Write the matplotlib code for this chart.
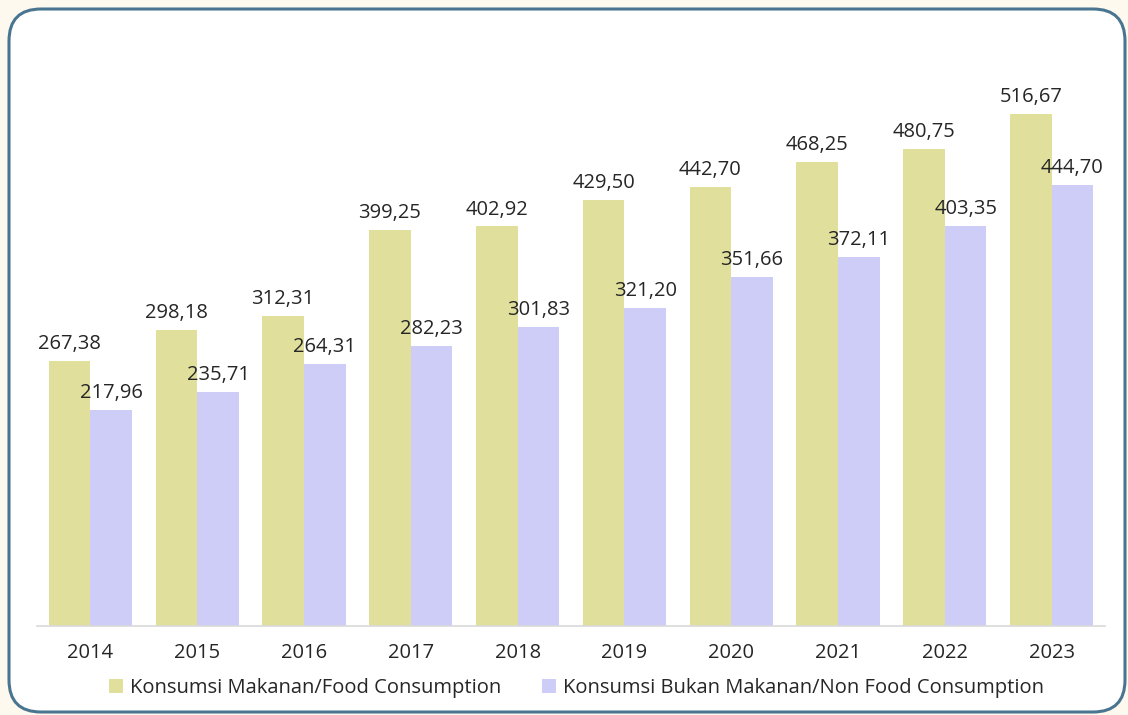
import numpy as np
import matplotlib.pyplot as plt
from matplotlib.patches import FancyBboxPatch, Patch

years = ['2014', '2015', '2016', '2017', '2018', '2019', '2020', '2021', '2022', '2023']
food = [267.38, 298.18, 312.31, 399.25, 402.92, 429.50, 442.70, 468.25, 480.75, 516.67]
non_food = [217.96, 235.71, 264.31, 282.23, 301.83, 321.20, 351.66, 372.11, 403.35, 444.70]
series_names = ['Konsumsi Makanan/Food Consumption', 'Konsumsi Bukan Makanan/Non Food Consumption']

food_color = '#e0e09c'
nonfood_color = '#cdcdf7'
text_color = '#262626'

plt.rcParams['font.family'] = ['Open Sans', 'DejaVu Sans']

fig = plt.figure(figsize=(11.28, 7.15), dpi=100)
fig.patch.set_facecolor('#fdf9ee')

# background frame in pixel units
bg = fig.add_axes([0, 0, 1, 1])
bg.set_xlim(0, 1128)
bg.set_ylim(0, 715)
bg.axis('off')
bg.add_patch(FancyBboxPatch((9, 3), 1116, 703, boxstyle='round,pad=0,rounding_size=32',
                            facecolor='white', edgecolor='#4a7590', linewidth=2.2))

ax = fig.add_axes([37 / 1128, 89 / 715, (1105 - 37) / 1128, (626 - 40) / 715])
ax.set_facecolor('none')
x = np.arange(len(years))
w = 0.39
b1 = ax.bar(x - w / 2, food, w, color=food_color)
b2 = ax.bar(x + w / 2, non_food, w, color=nonfood_color)

def fmt(v):
    return f'{v:.2f}'.replace('.', ',')

for bars, vals in ((b1, food), (b2, non_food)):
    for r, v in zip(bars, vals):
        ax.annotate(fmt(v), (r.get_x() + r.get_width() / 2, v), xytext=(0, 5),
                    textcoords='offset points', ha='center', va='bottom',
                    fontsize=14.5, color=text_color)

ax.set_xlim(-0.5, len(years) - 0.5)
ax.set_ylim(0, 591)
ax.set_xticks(x)
ax.set_xticklabels(years, fontsize=14.5, color=text_color)
ax.tick_params(axis='x', length=0, pad=12)
ax.set_yticks([])
for s in ('top', 'right', 'left'):
    ax.spines[s].set_visible(False)
ax.spines['bottom'].set_color('#d9d9d9')
ax.spines['bottom'].set_linewidth(1.2)

handles = [Patch(facecolor=food_color), Patch(facecolor=nonfood_color)]
fig.legend(handles, series_names, loc='center', bbox_to_anchor=(0.511, 0.038), ncol=2,
           frameon=False, fontsize=14.5, handlelength=0.7, handleheight=0.7,
           handletextpad=0.35, columnspacing=2.0, labelcolor=text_color)

fig.savefig('out.png', dpi=100, facecolor=fig.get_facecolor())
